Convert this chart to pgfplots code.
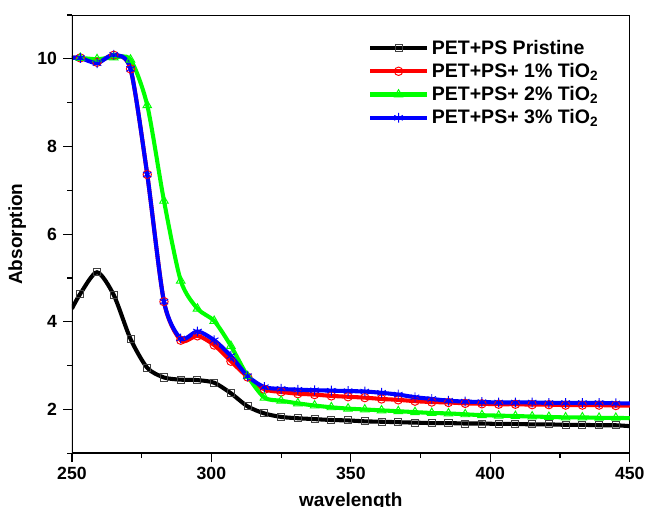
\documentclass[border=0pt]{standalone}
\usepackage{fontspec}
\setmainfont{Liberation Sans}
\usepackage{pgfplots}
\pgfplotsset{compat=1.18}
\definecolor{cBlack}{RGB}{0,0,0}
\definecolor{cRed}{RGB}{255,0,0}
\definecolor{cGreen}{RGB}{0,255,0}
\definecolor{cBlue}{RGB}{0,0,255}

\pgfplotstableread{
x     pr     t1     t2     t3
250   4.30   10.02  10.02  10.02
253   4.64   10.02  10.02  10.02
259   5.13   9.92   9.99   9.90
265   4.61   10.08  10.03  10.09
271   3.61   9.77   9.98   9.77
277   2.95   7.36   8.94   7.36
283   2.73   4.46   6.76   4.46
289   2.68   3.58   4.94   3.62
295   2.67   3.68   4.30   3.78
301   2.61   3.47   4.02   3.58
307   2.37   3.10   3.45   3.22
313   2.07   2.74   2.76   2.76
319   1.91   2.46   2.27   2.51
325   1.83   2.40   2.20   2.47
331   1.80   2.36   2.14   2.45
337   1.78   2.34   2.09   2.44
343   1.76   2.31   2.05   2.43
349   1.75   2.29   2.02   2.42
355   1.73   2.27   2.00   2.41
361   1.72   2.24   1.98   2.38
367   1.71   2.22   1.96   2.34
373   1.70   2.19   1.94   2.28
379   1.69   2.17   1.92   2.24
385   1.69   2.16   1.91   2.20
391   1.68   2.14   1.89   2.18
397   1.68   2.13   1.87   2.17
403   1.67   2.12   1.86   2.16
409   1.67   2.12   1.85   2.16
415   1.66   2.11   1.84   2.16
421   1.66   2.11   1.83   2.15
427   1.65   2.10   1.82   2.15
433   1.65   2.10   1.82   2.15
439   1.64   2.10   1.81   2.15
445   1.64   2.09   1.81   2.14
450   1.62   2.09   1.80   2.14
}\spectra

\begin{document}
\begin{tikzpicture}
\begin{axis}[
  scale only axis,
  width=411pt, height=323pt,
  xmin=250, xmax=450, ymin=1, ymax=11,
  xtick={250,300,...,450}, ytick={2,4,...,10},
  minor xtick={275,325,...,425}, minor ytick={1,3,...,11},
  tick align=outside, xtick pos=bottom, ytick pos=left,
  major tick length=6.5pt, minor tick length=3.5pt,
  tick style={black, line width=0.9pt},
  axis line style={line width=0.6pt},
  ticklabel style={font=\fontsize{13}{15}\selectfont\bfseries},
  yticklabel style={xshift=-1pt},
  /pgf/number format/assume math mode=true,
  xlabel={wavelength}, ylabel={Absorption},
  label style={font=\fontsize{14}{16}\selectfont\bfseries},
  xlabel style={at={(axis description cs:0.5,-0.09)}, anchor=north, inner sep=0pt, text depth=0pt},
  ylabel style={at={(axis description cs:-0.098,0.5)}, anchor=center, inner sep=0pt},
  legend style={at={(0.523,0.956)}, anchor=north west, draw=none, fill=none,
    font=\fontsize{14.4}{16}\selectfont\bfseries, row sep=1.2pt,
    /tikz/every even column/.append style={column sep=2pt}},
  legend cell align=left,
  legend image code/.code={
    \draw[#1, mark indices={2}] plot coordinates {(0pt,0pt) (21pt,0pt) (42pt,0pt)};},
  every axis plot/.append style={line width=3pt, smooth, tension=0.45,
    mark indices={2,...,34}, mark size=3pt,
    mark options={line width=0.7pt, solid, fill=none}},
]
\addplot[color=cBlack, mark=square, mark size=2.6pt,
  mark options={line width=0.7pt, solid, fill=none, draw=black!75}] table[x=x, y=pr] {\spectra};
\addlegendentry{PET+PS Pristine}
\addplot[color=cRed, mark=o, mark size=3.1pt] table[x=x, y=t1] {\spectra};
\addlegendentry{PET+PS+ 1\% TiO\textsubscript{2}}
\addplot[color=cGreen, mark=triangle, mark size=3.6pt] table[x=x, y=t2] {\spectra};
\addlegendentry{PET+PS+ 2\% TiO\textsubscript{2}}
\addplot[color=cBlue, mark=asterisk, mark size=3.6pt] table[x=x, y=t3] {\spectra};
\addlegendentry{PET+PS+ 3\% TiO\textsubscript{2}}
\draw[line width=1.4pt] (rel axis cs:0,0) -- (rel axis cs:0,1);
\draw[line width=1.4pt] (rel axis cs:0,0) -- (rel axis cs:1,0);
\coordinate (tl) at (rel axis cs:0,1);
\coordinate (tr) at (rel axis cs:1,1);
\end{axis}
\path (tl) ++(-53pt,11pt);
\path (tr) ++(14pt,0pt);
\end{tikzpicture}
\end{document}
